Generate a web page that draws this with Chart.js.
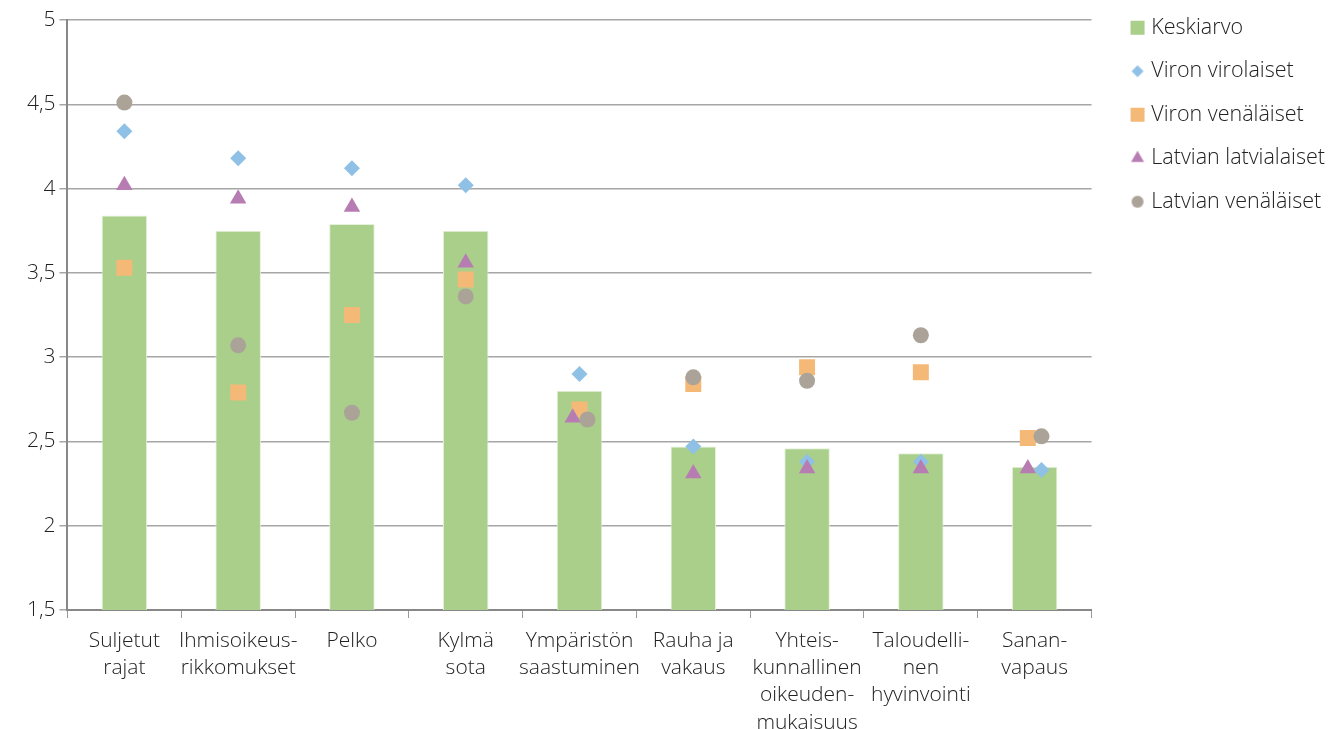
<!DOCTYPE html>
<html>
<head>
<meta charset="utf-8">
<script src="https://cdn.jsdelivr.net/npm/chart.js@4.4.1/dist/chart.umd.min.js"></script>
<style>
  html, body { margin: 0; padding: 0; background: #fff; }
  #wrap { width: 1338px; height: 729px; }
</style>
</head>
<body>
<div id="wrap"><canvas id="myChart"></canvas></div>
<script>
// categories (multi-line labels)
const labels = [
    ['Suljetut', 'rajat'],
    ['Ihmisoikeus-', 'rikkomukset'],
    ['Pelko'],
    ['Kylmä', 'sota'],
    ['Ympäristön', 'saastuminen'],
    ['Rauha ja', 'vakaus'],
    ['Yhteis-', 'kunnallinen', 'oikeuden-', 'mukaisuus'],
    ['Taloudelli-', 'nen', 'hyvinvointi'],
    ['Sanan-', 'vapaus']
];

// series
const keskiarvo = [3.84, 3.75, 3.79, 3.75, 2.80, 2.47, 2.46, 2.43, 2.35];
const vironVirolaiset = [4.34, 4.18, 4.12, 4.02, 2.90, 2.47, 2.38, 2.38, 2.33];
const vironVenalaiset = [3.53, 2.79, 3.25, 3.46, 2.69, 2.84, 2.94, 2.91, 2.52];
const latvianLatvialaiset = [4.02, 3.94, 3.89, 3.56, 2.64, 2.31, 2.34, 2.34, 2.34];
const latvianVenalaiset = [4.51, 3.07, 2.67, 3.36, 2.63, 2.88, 2.86, 3.13, 2.53];

// small sideways shifts (in category units) where markers overlap in the original
const shiftVirolaiset = [0, 0, 0, 0, 0, 0, 0, 0, 0.06];
const shiftVenalaiset = [0, 0, 0, 0, 0, 0, 0, 0, -0.06];
const shiftLatvialaiset = [0, 0, 0, 0, -0.06, 0, 0, 0, -0.06];
const shiftLatvVenalaiset = [0, 0, 0, 0, 0.07, 0, 0, 0, 0.06];

// y ticks
const yMin = 1.5, yMax = 5, yStep = 0.5;

const toPoints = (vals, shift) => vals.map((v, i) => ({ x: i + shift[i], y: v }));

Chart.defaults.font.family = '"Open Sans", "Noto Sans", sans-serif';
Chart.defaults.font.weight = 300;
Chart.defaults.font.size = 21;
Chart.defaults.font.lineHeight = 1.3;
Chart.defaults.color = '#222';

// small legend icons, drawn with Chart.js' own point helper
function legendIcon(style, radius, color) {
    const c = document.createElement('canvas');
    c.width = 18; c.height = 18;
    const ctx = c.getContext('2d');
    ctx.fillStyle = color;
    ctx.strokeStyle = color;
    ctx.lineWidth = 0;
    Chart.helpers.drawPoint(ctx, { pointStyle: style, radius: radius, borderWidth: 0 }, 9, 9);
    return c;
}
const legendIcons = [
    legendIcon('rect', 9.9, '#a9cf8a'),
    legendIcon('rectRot', 6, '#8fc1e6'),
    legendIcon('rect', 9.9, '#f4b977'),
    legendIcon('triangle', 7.5, '#b77db3'),
    legendIcon('circle', 6, '#aca398')
];

// move the legend up and a bit to the right
const legendNudge = {
    id: 'legendNudge',
    afterLayout(chart) {
        const lg = chart.legend;
        if (lg) {
            lg.top -= 25;
            lg.bottom -= 25;
            lg.left += 21;
            lg.right += 21;
        }
    }
};

const data = {
    labels: labels,
    datasets: [{
        type: 'bar',
        label: 'Keskiarvo',
        data: keskiarvo,
        backgroundColor: '#a9cf8a',
        borderColor: '#e4f1da',
        borderWidth: 1,
        barPercentage: 0.4,
        categoryPercentage: 1,
        grouped: false,
        order: 5
    }, {
        type: 'scatter',
        label: 'Viron virolaiset',
        data: toPoints(vironVirolaiset, shiftVirolaiset),
        xAxisID: 'xs',
        backgroundColor: '#8fc1e6',
        borderWidth: 0,
        pointStyle: 'rectRot',
        pointRadius: 8,
        order: 4
    }, {
        type: 'scatter',
        label: 'Viron venäläiset',
        data: toPoints(vironVenalaiset, shiftVenalaiset),
        xAxisID: 'xs',
        backgroundColor: '#f4b977',
        borderWidth: 0,
        pointStyle: 'rect',
        pointRadius: 11.3,
        order: 3
    }, {
        type: 'scatter',
        label: 'Latvian latvialaiset',
        data: toPoints(latvianLatvialaiset, shiftLatvialaiset),
        xAxisID: 'xs',
        backgroundColor: '#b77db3',
        borderWidth: 0,
        pointStyle: 'triangle',
        pointRadius: 9.5,
        order: 2
    }, {
        type: 'scatter',
        label: 'Latvian venäläiset',
        data: toPoints(latvianVenalaiset, shiftLatvVenalaiset),
        xAxisID: 'xs',
        backgroundColor: '#aca398',
        borderWidth: 0,
        pointStyle: 'circle',
        pointRadius: 8,
        order: 1
    }]
};

const config = {
    type: 'bar',
    data: data,
    plugins: [legendNudge],
    options: {
        responsive: true,
        maintainAspectRatio: false,
        animation: false,
        layout: {
            padding: { top: 20, right: 24, left: 23, bottom: 0 }
        },
        plugins: {
            legend: {
                position: 'right',
                align: 'start',
                labels: {
                    usePointStyle: true,
                    boxHeight: 14,
                    boxWidth: 6,
                    padding: 22,
                    color: '#222',
                    font: { size: 21.5 },
                    sort: (a, b) => a.datasetIndex - b.datasetIndex,
                    generateLabels(chart) {
                        const items = Chart.defaults.plugins.legend.labels.generateLabels(chart);
                        items.forEach((it) => { it.pointStyle = legendIcons[it.datasetIndex]; });
                        return items;
                    }
                }
            },
            tooltip: { enabled: false }
        },
        scales: {
            x: {
                type: 'category',
                offset: true,
                grid: {
                    offset: true,
                    drawOnChartArea: false,
                    drawTicks: true,
                    tickLength: 8,
                    color: '#999'
                },
                border: { color: '#888', width: 2 },
                ticks: { maxRotation: 0, autoSkip: false, padding: 9, color: '#222' },
                afterFit(scale) { scale.height = 119; }
            },
            xs: {
                type: 'linear',
                display: false,
                offset: false,
                grace: 0,
                min: -0.5,
                max: 8.5
            },
            y: {
                min: yMin,
                max: yMax,
                grid: { color: '#a6a6a6', tickLength: 8, lineWidth: 1.5 },
                border: { color: '#888', width: 2 },
                ticks: {
                    stepSize: yStep,
                    padding: 4,
                    color: '#222',
                    callback: (v) => v.toString().replace('.', ',')
                }
            }
        }
    }
};

const myChart = new Chart(document.getElementById('myChart'), config);
</script>
</body>
</html>
